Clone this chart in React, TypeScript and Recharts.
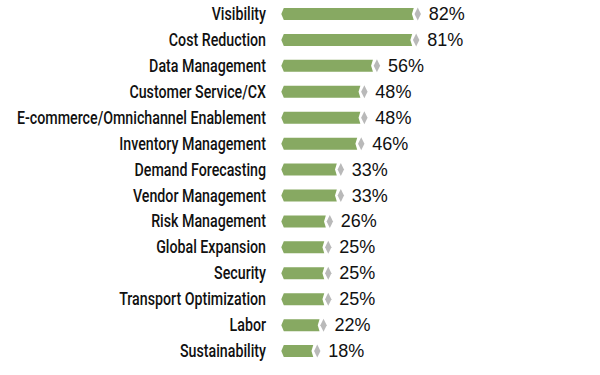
import React from 'react';
import { BarChart, Bar, XAxis, YAxis, LabelList } from 'recharts';

const categories = [
  'Visibility',
  'Cost Reduction',
  'Data Management',
  'Customer Service/CX',
  'E-commerce/Omnichannel Enablement',
  'Inventory Management',
  'Demand Forecasting',
  'Vendor Management',
  'Risk Management',
  'Global Expansion',
  'Security',
  'Transport Optimization',
  'Labor',
  'Sustainability',
];
const values = [82, 81, 56, 48, 48, 46, 33, 33, 26, 25, 25, 25, 22, 18];

const data = categories.map((name, i) => ({ name, value: values[i] }));

const GREEN = '#87a962';
const GRAY = '#b9b9b9';

const ArrowBar = (props: any) => {
  const { x, y, width, height } = props;
  const cy = y + height / 2;
  const end = x + width;
  const green = [
    [x - 7.7, cy],
    [x - 5.2, y],
    [end - 4, y],
    [end - 5.8, cy],
    [end - 4, y + height],
    [x - 5.2, y + height],
  ]
    .map((p) => p.join(','))
    .join(' ');
  const diamond = [
    [end - 3.2, cy],
    [end, cy - 6.5],
    [end + 3.2, cy],
    [end, cy + 6.5],
  ]
    .map((p) => p.join(','))
    .join(' ');
  return (
    <g>
      <polygon points={green} fill={GREEN} />
      <polygon points={diamond} fill={GRAY} />
    </g>
  );
};

const CatTick = (props: any) => {
  const { x, y, payload } = props;
  return (
    <g transform={`translate(${x},${y}) scale(0.79,1)`}>
      <text
        x={0}
        y={0}
        textAnchor="end"
        dominantBaseline="central"
        fontFamily="Roboto, 'Liberation Sans', sans-serif"
        fontWeight={500}
        fontSize={18}
        fill="#111"
      >
        {payload.value}
      </text>
    </g>
  );
};

const ValueLabel = (props: any) => {
  const { x, y, width, height, value } = props;
  return (
    <text
      x={x + width + 11}
      y={y + height / 2}
      textAnchor="start"
      dominantBaseline="central"
      fontFamily="'Liberation Sans', Arial, sans-serif"
      fontSize={18}
      fill="#111"
    >
      {value}%
    </text>
  );
};

export default function App() {
  return (
    <div style={{ position: 'absolute', left: 0, top: 0, width: 600, height: 375, background: '#fff' }}>
      <BarChart
        width={600}
        height={375}
        data={data}
        layout="vertical"
        margin={{ top: 1, right: 154, bottom: 11, left: 0 }}
      >
        <XAxis type="number" domain={[0, 100]} hide />
        <YAxis
          type="category"
          dataKey="name"
          width={289}
          axisLine={false}
          tickLine={false}
          tickSize={0}
          tickMargin={23}
          tick={<CatTick />}
          interval={0}
        />
        <Bar dataKey="value" barSize={12} shape={<ArrowBar />} isAnimationActive={false}>
          <LabelList dataKey="value" content={<ValueLabel />} />
        </Bar>
      </BarChart>
    </div>
  );
}
